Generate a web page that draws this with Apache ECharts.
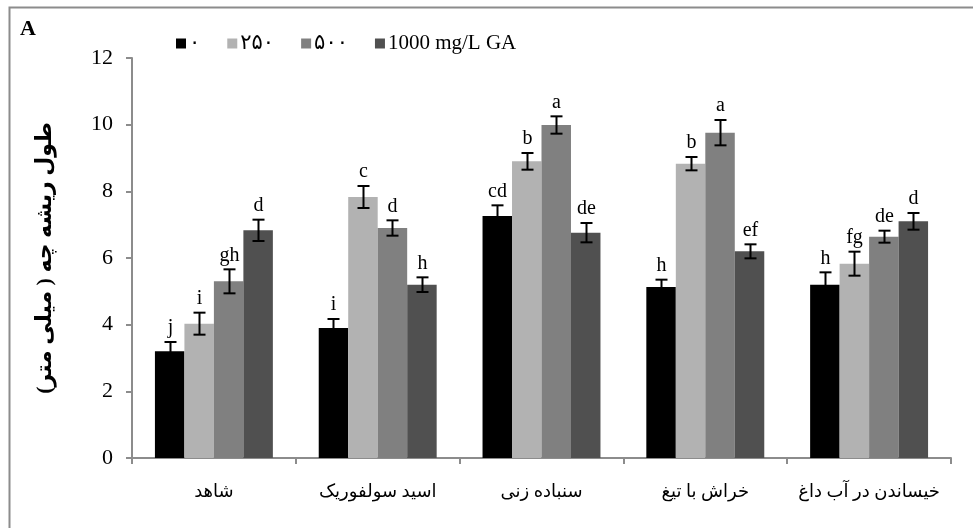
<!DOCTYPE html>
<html>
<head>
<meta charset="utf-8">
<script src="https://cdn.jsdelivr.net/npm/echarts@6/dist/echarts.min.js"></script>
<style>
  html, body { margin: 0; padding: 0; background: #fff; }
  #chart { width: 973px; height: 528px; }
</style>
</head>
<body>
<div id="chart"></div>
<script>
// Radicle length (mm) by seed pretreatment and GA concentration
const categories = ['شاهد', 'اسید سولفوریک', 'سنباده زنی', 'خراش با تیغ', 'خیساندن در آب داغ'];
const seriesNames = ['۰', '۲۵۰', '۵۰۰', '1000 mg/L GA'];
const seriesColors = ['#000000', '#b2b2b2', '#808080', '#505050'];

const ga0    = [3.20, 3.90, 7.26, 5.13, 5.20];
const ga250  = [4.03, 7.83, 8.90, 8.83, 5.83];
const ga500  = [5.30, 6.90, 9.99, 9.76, 6.64];
const ga1000 = [6.83, 5.20, 6.76, 6.20, 7.10];

const err0    = [0.28, 0.27, 0.32, 0.22, 0.37];
const err250  = [0.33, 0.33, 0.25, 0.20, 0.36];
const err500  = [0.36, 0.23, 0.26, 0.38, 0.18];
const err1000 = [0.32, 0.22, 0.29, 0.21, 0.25];

const letters0    = ['j', 'i', 'cd', 'h', 'h'];
const letters250  = ['i', 'c', 'b', 'b', 'fg'];
const letters500  = ['gh', 'd', 'a', 'a', 'de'];
const letters1000 = ['d', 'h', 'de', 'ef', 'd'];

const yTicks = [0, 2, 4, 6, 8, 10, 12];

const values = [ga0, ga250, ga500, ga1000];
const errors = [err0, err250, err500, err1000];
const letters = [letters0, letters250, letters500, letters1000];

const SERIF = '"Liberation Serif", "Times New Roman", "DejaVu Sans", serif';
const CAT_GAP = 0.28;

const chart = echarts.init(document.getElementById('chart'), null, { renderer: 'canvas' });

const barSeries = values.map((vals, i) => ({
  name: seriesNames[i],
  type: 'bar',
  data: vals,
  barGap: '0%',
  barCategoryGap: (CAT_GAP * 100) + '%',
  itemStyle: { color: seriesColors[i] },
  emphasis: { disabled: true },
  z: 2
}));

// Error bars with significance letters, placed over each bar of the group
const errSeries = values.map((vals, i) => ({
  type: 'custom',
  name: 'err' + i,
  data: vals.map((v, k) => [k, v, errors[i][k], k]),
  z: 5,
  silent: true,
  renderItem: function (params, api) {
    const k = api.value(0);
    const mean = api.value(1);
    const e = api.value(2);
    const base = api.coord([k, mean]);
    const catW = api.size([1, 0])[0];
    const barW = catW * (1 - CAT_GAP) / 4;
    const cx = Math.round(base[0] + (i - 1.5) * barW) + 0.5;
    const top = api.coord([k, mean + e])[1];
    const bot = api.coord([k, mean - e])[1];
    const cap = 6;
    const stroke = { stroke: '#000', lineWidth: 2 };
    return {
      type: 'group',
      children: [
        { type: 'line', shape: { x1: cx, y1: top, x2: cx, y2: bot }, style: stroke },
        { type: 'line', shape: { x1: cx - cap, y1: top, x2: cx + cap, y2: top }, style: stroke },
        { type: 'line', shape: { x1: cx - cap, y1: bot, x2: cx + cap, y2: bot }, style: stroke },
        {
          type: 'text',
          style: {
            text: letters[i][api.value(3)],
            x: cx,
            y: top - 4,
            align: 'center',
            verticalAlign: 'bottom',
            fill: '#000',
            font: '20px ' + SERIF
          }
        }
      ]
    };
  }
}));

chart.setOption({
  animation: false,
  backgroundColor: '#ffffff',
  grid: { left: 132, right: 22, top: 58, bottom: 70, containLabel: false },
  legend: {
    data: seriesNames,
    left: 176,
    top: 33,
    padding: 0,
    itemWidth: 10,
    itemHeight: 10,
    itemGap: 27,
    icon: 'rect',
    selectedMode: false,
    textStyle: { fontFamily: SERIF, fontSize: 21, color: '#000', padding: [0, 0, 0, -2] }
  },
  xAxis: {
    type: 'category',
    data: categories,
    axisLine: { lineStyle: { color: '#8c8c8c', width: 2 } },
    axisTick: { show: true, length: 6, lineStyle: { color: '#8c8c8c', width: 2 } },
    axisLabel: { fontFamily: SERIF, fontSize: 18, color: '#000', margin: 25, interval: 0 },
    splitLine: { show: false }
  },
  yAxis: {
    type: 'value',
    min: 0,
    max: 12,
    interval: 2,
    name: 'طول ریشه چه ( میلی متر)',
    nameLocation: 'middle',
    nameGap: 76,
    nameRotate: 90,
    nameTextStyle: { fontFamily: SERIF, fontSize: 22, fontWeight: 'bold', color: '#000' },
    axisLine: { show: true, lineStyle: { color: '#8c8c8c', width: 2 } },
    axisTick: { show: true, length: 6, lineStyle: { color: '#8c8c8c', width: 2 } },
    axisLabel: {
      fontFamily: SERIF, fontSize: 22, color: '#000', margin: 19,
      formatter: v => (yTicks.indexOf(v) >= 0 ? String(v) : '')
    },
    splitLine: { show: false }
  },
  graphic: [
    {
      type: 'rect',
      shape: { x: 9.5, y: 7.5, width: 1200, height: 800 },
      style: { fill: 'none', stroke: '#8c8c8c', lineWidth: 2 },
      silent: true
    },
    {
      type: 'text',
      left: 20,
      top: 18,
      style: { text: 'A', font: 'bold 22px ' + SERIF, fill: '#000' }
    }
  ],
  series: barSeries.concat(errSeries)
});
</script>
</body>
</html>
